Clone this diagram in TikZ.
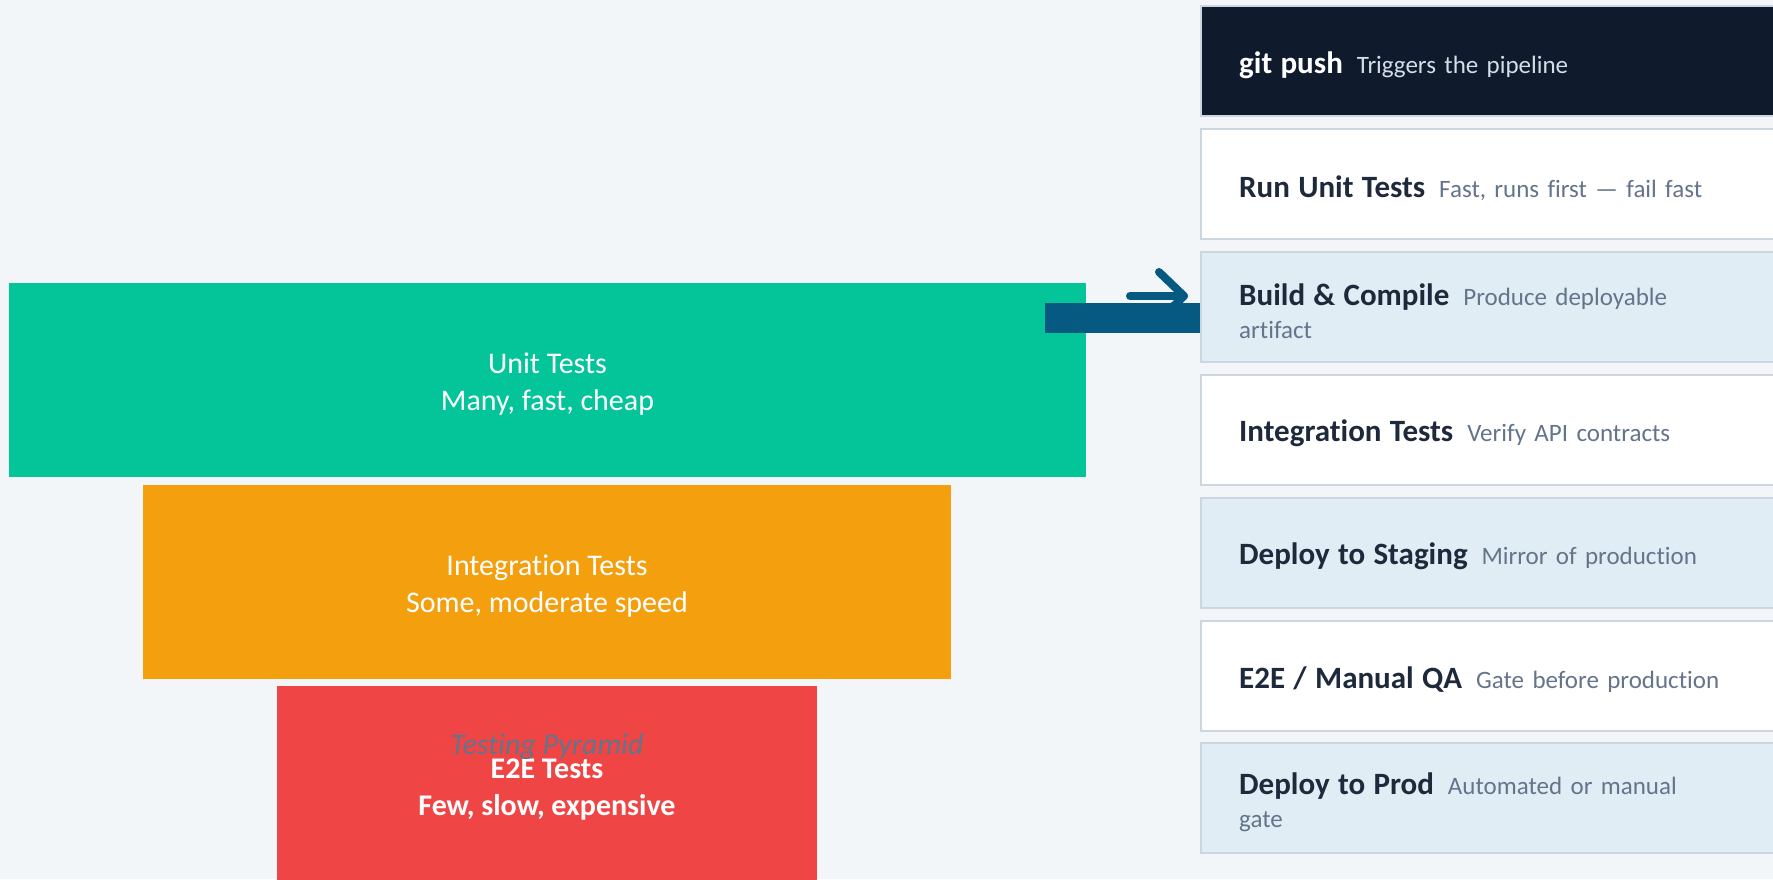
\documentclass[tikz,border=0pt]{standalone}
\usepackage{fontspec}
\usetikzlibrary{calc}
\setmainfont{Carlito}[Ligatures=CommonOff]
\definecolor{bgc}{HTML}{F2F6F9}
\definecolor{tgreen}{HTML}{04C49A}
\definecolor{torange}{HTML}{F39F0E}
\definecolor{tred}{HTML}{EF4545}
\definecolor{navy}{HTML}{0F1B2D}
\definecolor{lblue}{HTML}{E0EDF5}
\definecolor{edgec}{HTML}{CDD5DF}
\definecolor{titlec}{HTML}{1E293B}
\definecolor{descc}{HTML}{64748B}
\definecolor{darkdesc}{HTML}{D5DEE8}
\definecolor{arrowc}{HTML}{065A82}
\tikzset{
  tier/.style={rectangle, draw=none, inner sep=0pt},
  tiertext/.style={text=white, align=center, inner sep=0pt,
    font=\fontsize{30}{37}\selectfont},
  stage/.style={rectangle, draw=edgec, line width=2pt, anchor=west,
    minimum width=600pt, minimum height=110pt},
  stagetext/.style={anchor=west, inner sep=0pt, text width=520pt, align=left,
    font=\fontsize{25}{33}\selectfont},
  barline/.style={draw=arrowc, line width=30pt},
  thinarrow/.style={draw=arrowc, line width=8pt, line cap=round, line join=round},
  subtitle/.style={text=descc, inner sep=0pt, font=\fontsize{30}{36}\selectfont\itshape}
}
\newcommand{\st}[2]{{\fontsize{31}{33}\selectfont\bfseries #1}\hspace{14pt}#2}
\begin{document}
\begin{tikzpicture}[x=1pt,y=-1pt]
\fill[bgc] (0,0) rectangle (1773,879);
\useasboundingbox (0,0) rectangle (1773,879);
% pyramid
\node[tier, fill=tgreen, minimum width=1077pt, minimum height=194pt] (unit) at (547.5,380) {};
\node[tier, fill=torange, minimum width=808pt, minimum height=194pt] (integ) at (547,582) {};
\node[tier, fill=tred, minimum width=540pt, minimum height=194pt] (e2e) at (547,783) {};
\node[tiertext] (unittxt) at ($(unit.center)+(0,4.5)$) {Unit Tests\\Many, fast, cheap};
\node[tiertext] (integtxt) at ($(integ.center)+(0,4.5)$) {Integration Tests\\Some, moderate speed};
\node[tiertext, font=\fontsize{30}{37}\selectfont\bfseries] (e2etxt) at ($(e2e.center)+(0,6.5)$) {E2E Tests\\Few, slow, expensive};
\node[subtitle] (ptitle) at (547,747) {Testing Pyramid};
% pipeline boxes
\node[stage, fill=navy] (push) at (1200,61) {};
\node[stage, fill=white] (rununit) at (1200,183.9) {};
\node[stage, fill=lblue] (build) at (1200,306.8) {};
\node[stage, fill=white] (inttest) at (1200,429.7) {};
\node[stage, fill=lblue] (staging) at (1200,552.6) {};
\node[stage, fill=white] (manualqa) at (1200,675.5) {};
\node[stage, fill=lblue] (prod) at (1200,798.4) {};
% pipeline texts
\node[stagetext, text=darkdesc] (pushtxt) at ($(push.west)+(39,4)$) {\st{\textcolor{white}{git push}}{Triggers the pipeline}};
\node[stagetext, text=descc] (rununittxt) at ($(rununit.west)+(39,4)$) {\st{\textcolor{titlec}{Run Unit Tests}}{Fast, runs first — fail fast}};
\node[stagetext, text=descc] (buildtxt) at ($(build.west)+(39,4)$) {\st{\textcolor{titlec}{Build \& Compile}}{Produce deployable}\\artifact};
\node[stagetext, text=descc] (inttesttxt) at ($(inttest.west)+(39,4)$) {\st{\textcolor{titlec}{Integration Tests}}{Verify API contracts}};
\node[stagetext, text=descc] (stagingtxt) at ($(staging.west)+(39,4)$) {\st{\textcolor{titlec}{Deploy to Staging}}{Mirror of production}};
\node[stagetext, text=descc] (manualqatxt) at ($(manualqa.west)+(39,4)$) {\st{\textcolor{titlec}{E2E / Manual QA}}{Gate before production}};
\node[stagetext, text=descc] (prodtxt) at ($(prod.west)+(39,4)$) {\st{\textcolor{titlec}{Deploy to Prod}}{Automated or manual}\\gate};
% connector
\coordinate (arrtail) at (1130,296);
\coordinate (arrtip) at (1184,296);
\draw[thinarrow] (arrtail) -- (arrtip);
\draw[thinarrow] ($(arrtip)+(-25,-24)$) -- (arrtip) -- ($(arrtip)+(-25,24)$);
\coordinate (barstart) at (1045,317.5);
\draw[barline] (barstart) -- (build.west |- barstart);
\end{tikzpicture}
\end{document}
